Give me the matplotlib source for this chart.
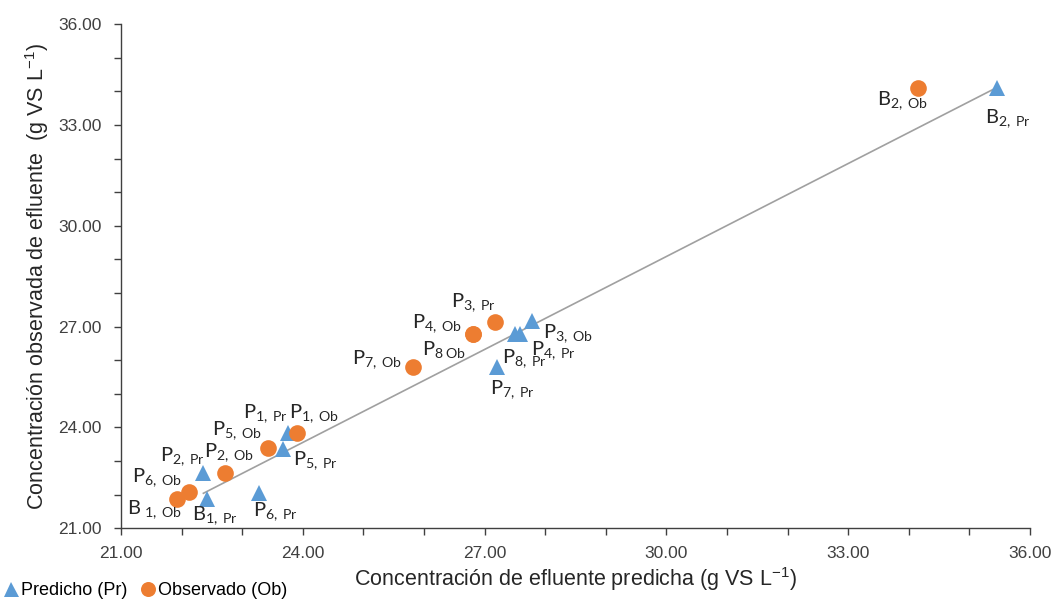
"""
Predicted vs observed effluent concentration scatter
"""
import matplotlib
matplotlib.use('Agg')
import matplotlib.pyplot as plt
from matplotlib.ticker import MultipleLocator, FormatStrFormatter

# predicted series (triangles): x = predicted, y = observed
pr_x = [22.42, 22.36, 23.28, 23.76, 23.68, 27.21, 27.51, 27.59, 27.79, 35.45]
pr_y = [21.86, 22.64, 22.04, 23.83, 23.35, 25.80, 26.78, 26.78, 27.17, 34.11]
pr_labels = ['B', 'P', 'P', 'P', 'P', 'P', 'P', 'P', 'P', 'B']
pr_subs = ['1, Pr', '2, Pr', '6, Pr', '1, Pr', '5, Pr',
           '7, Pr', '8, Pr', '4, Pr', '3, Ob', '2, Pr']

# observed series (circles)
ob_x = [21.93, 22.13, 22.71, 23.42, 23.91, 25.82, 26.81, 26.81, 27.18, 34.15]
ob_y = [21.86, 22.07, 22.64, 23.38, 23.83, 25.80, 26.78, 26.78, 27.14, 34.11]
ob_labels = ['B ', 'P', 'P', 'P', 'P', 'P', 'P', 'P', 'P', 'B']
ob_subs = ['1, Ob', '6, Ob', '2, Ob', '5, Ob', '1, Ob',
           '7, Ob', '8 Ob', '4, Ob', '3, Pr', '2, Ob']

# trend line end points
trend_x = [22.36, 35.45]
trend_y = [22.04, 34.11]

# label offsets in pixels (layout only)
pr_off = [(8, -16), (-21, 17), (16, -18), (-23, 20), (32, -11),
          (15, -23), (9, -25), (33, -17), (36, -13), (11, -31)]
ob_off = [(-23, -10), (-32, 15), (4, 21), (-31, 18), (17, 20),
          (-36, 7), (-29, -16), (-36, 10), (-22, 19), (-15, -13)]

BLUE = '#5B9BD5'
ORANGE = '#ED7D31'
sans = ['Liberation Sans', 'DejaVu Sans']


def sub_label(main, sub):
    # mathtext with the text font; spaces turned into small math spaces
    main = main.replace(' ', r'\:')
    sub = sub.replace(' ', r'\:')
    return r'$\mathregular{%s}_{\mathregular{%s}}$' % (main, sub)


fig = plt.figure(figsize=(10.52, 6.03), dpi=100)
ax = fig.add_axes([0.115, 0.124, 0.864, 0.836])

ax.plot(trend_x, trend_y, color='#A0A0A0', lw=1.2, zorder=1)
ax.plot(pr_x, pr_y, '^', color=BLUE, ms=12, mew=0, label='Predicho (Pr)', zorder=3)
ax.plot(ob_x, ob_y, 'o', color=ORANGE, ms=12, mew=0, label='Observado (Ob)', zorder=3)

# point labels
for x, y, l, s, o in zip(pr_x, pr_y, pr_labels, pr_subs, pr_off):
    ax.annotate(sub_label(l, s), (x, y), xytext=o,
                textcoords='offset pixels', ha='center', va='center',
                fontsize=14.5, family='Lato', color='#262626')
for x, y, l, s, o in zip(ob_x, ob_y, ob_labels, ob_subs, ob_off):
    ax.annotate(sub_label(l, s), (x, y), xytext=o,
                textcoords='offset pixels', ha='center', va='center',
                fontsize=14.5, family='Lato', color='#262626')

ax.set_xlim(21, 36)
ax.set_ylim(21, 36)
ax.xaxis.set_major_locator(MultipleLocator(3))
ax.yaxis.set_major_locator(MultipleLocator(3))
ax.xaxis.set_minor_locator(MultipleLocator(1))
ax.yaxis.set_minor_locator(MultipleLocator(1))
ax.xaxis.set_major_formatter(FormatStrFormatter('%.2f'))
ax.yaxis.set_major_formatter(FormatStrFormatter('%.2f'))
ax.tick_params(which='both', direction='out', length=5, width=1, color='#404040')
ax.tick_params(axis='x', pad=8)
ax.tick_params(axis='y', pad=9)
for lab in ax.get_xticklabels() + ax.get_yticklabels():
    lab.set_family(sans)
    lab.set_fontsize(12.5)
    lab.set_color('#404040')

for side in ['top', 'right']:
    ax.spines[side].set_visible(False)
for side in ['left', 'bottom']:
    ax.spines[side].set_color('#404040')
    ax.spines[side].set_linewidth(1)

ax.set_xlabel(r'Concentración de efluente predicha (g VS L$^{\mathregular{-1}}$)',
              family=sans, fontsize=15.5, color='#262626', labelpad=3)
ax.set_ylabel(r'Concentración observada de efluente  (g VS L$^{\mathregular{-1}}$)',
              family=sans, fontsize=15.5, color='#262626', labelpad=5)

fig.legend(loc='lower left', bbox_to_anchor=(-0.008, -0.012), ncol=2, frameon=False,
           prop={'family': sans, 'size': 13}, handletextpad=0.05,
           columnspacing=0.6, handlelength=1.0, borderaxespad=0.2,
           markerscale=0.9)

fig.savefig('out.png', dpi=100)
